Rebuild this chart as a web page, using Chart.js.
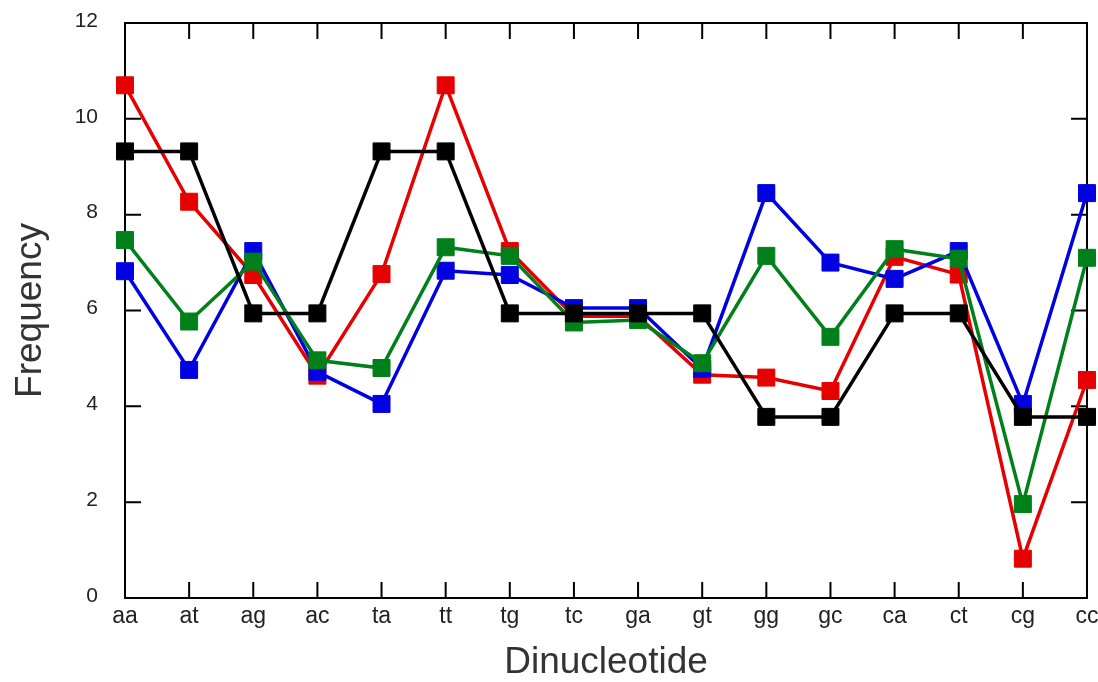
<!DOCTYPE html>
<html>
<head>
<meta charset="utf-8">
<script src="https://cdn.jsdelivr.net/npm/chart.js@4"></script>
<style>
  body { margin: 0; background: #fff; }
  #wrap { width: 1098px; height: 682px; position: relative; }
</style>
</head>
<body>
<div id="wrap"><canvas id="lineChart"></canvas></div>
<script>
const labels = ['aa', 'at', 'ag', 'ac', 'ta', 'tt', 'tg', 'tc', 'ga', 'gt', 'gg', 'gc', 'ca', 'ct', 'cg', 'cc'];
const redVals = [10.7, 8.27, 6.74, 4.64, 6.76, 10.7, 7.24, 5.88, 5.88, 4.66, 4.6, 4.32, 7.12, 6.75, 0.82, 4.55];
const blueVals = [6.82, 4.76, 7.24, 4.72, 4.05, 6.83, 6.74, 6.05, 6.05, 4.78, 8.45, 7.0, 6.66, 7.24, 4.05, 8.45];
const greenVals = [7.47, 5.77, 7.02, 4.96, 4.8, 7.32, 7.14, 5.75, 5.8, 4.9, 7.14, 5.45, 7.28, 7.08, 1.96, 7.1];
const blackVals = [9.32, 9.32, 5.94, 5.94, 9.32, 9.32, 5.94, 5.94, 5.94, 5.94, 3.78, 3.78, 5.94, 5.94, 3.78, 3.78];
const yTicks = [0, 2, 4, 6, 8, 10, 12];

const TEXT = '#222';
const FONT = "'Liberation Sans', Arial, sans-serif";

const series = (data, color) => ({
  data,
  borderColor: color,
  backgroundColor: color,
  borderWidth: 3.5,
  pointStyle: 'rect',
  pointRadius: 12,
  pointBorderWidth: 1,
  pointHoverRadius: 12,
  tension: 0,
  clip: false
});

// frame with inward ticks on all four sides
const framePlugin = {
  id: 'frame',
  beforeDatasetsDraw(chart) {
    const { ctx, chartArea: a, scales } = chart;
    const len = 16;
    ctx.save();
    ctx.strokeStyle = '#000';
    ctx.lineWidth = 2;
    ctx.strokeRect(a.left, a.top, a.right - a.left, a.bottom - a.top);
    ctx.beginPath();
    scales.x.ticks.forEach((t, i) => {
      const x = scales.x.getPixelForTick(i);
      ctx.moveTo(x, a.bottom); ctx.lineTo(x, a.bottom - len);
      ctx.moveTo(x, a.top); ctx.lineTo(x, a.top + len);
    });
    scales.y.ticks.forEach((t, i) => {
      const y = scales.y.getPixelForTick(i);
      ctx.moveTo(a.left, y); ctx.lineTo(a.left + len, y);
      ctx.moveTo(a.right, y); ctx.lineTo(a.right - len, y);
    });
    ctx.stroke();
    ctx.restore();
  }
};

new Chart(document.getElementById('lineChart'), {
  type: 'line',
  data: {
    labels,
    datasets: [
      series(blackVals, '#000000'),
      series(greenVals, '#00801a'),
      series(blueVals, '#0000e0'),
      series(redVals, '#e60000')
    ]
  },
  options: {
    responsive: true,
    maintainAspectRatio: false,
    animation: false,
    layout: { autoPadding: false, padding: { top: 23, right: 11, left: 0, bottom: 0 } },
    plugins: { legend: { display: false }, tooltip: { enabled: false } },
    scales: {
      x: {
        offset: false,
        grid: { display: false, drawTicks: false },
        border: { display: false },
        ticks: { color: TEXT, font: { family: FONT, size: 23 }, padding: 5, maxRotation: 0, autoSkip: false },
        title: { display: true, text: 'Dinucleotide', color: '#333', font: { family: FONT, size: 37, lineHeight: 1 }, padding: { top: 0, bottom: 1 } },
        afterFit: (s) => { s.height = 84; s.paddingLeft = 0; s.paddingRight = 0; }
      },
      y: {
        min: 0,
        max: 12,
        afterBuildTicks: (s) => { s.ticks = yTicks.map((v) => ({ value: v })); },
        grid: { display: false, drawTicks: false },
        border: { display: false },
        ticks: { color: TEXT, font: { family: FONT, size: 21 }, padding: 27, labelOffset: -2 },
        title: { display: true, text: 'Frequency', color: '#333', font: { family: FONT, size: 37, lineHeight: 1 }, padding: { top: 12, bottom: 0 } },
        afterFit: (s) => { s.width = 125; s.paddingTop = 0; s.paddingBottom = 0; }
      }
    }
  },
  plugins: [framePlugin]
});
</script>
</body>
</html>
